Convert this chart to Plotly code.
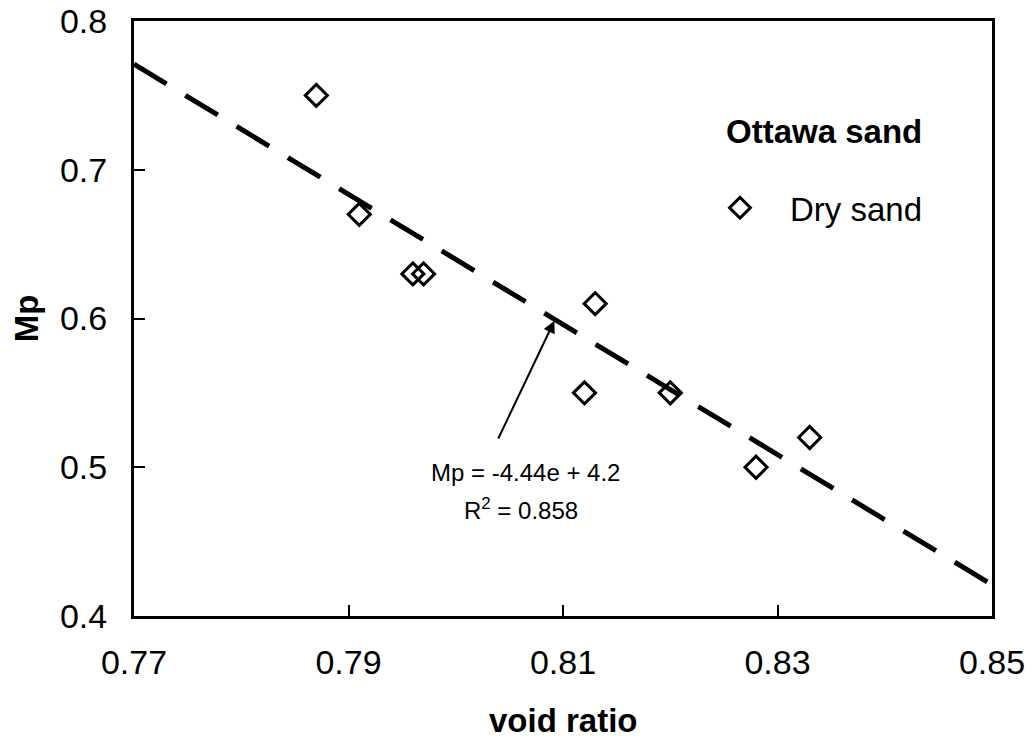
import plotly.graph_objects as go

# Data
void_ratio = [0.787, 0.791, 0.796, 0.797, 0.813, 0.812, 0.820, 0.828, 0.833]
mp_values = [0.75, 0.67, 0.63, 0.63, 0.61, 0.55, 0.55, 0.50, 0.52]

trend_e = [0.77, 0.85]
trend_mp = [0.771, 0.421]

x_ticks = [0.77, 0.79, 0.81, 0.83, 0.85]
x_ticktext = ["0.77", "0.79", "0.81", "0.83", "0.85"]
y_ticks = [0.4, 0.5, 0.6, 0.7, 0.8]
y_ticktext = ["0.4", "0.5", "0.6", "0.7", "0.8"]

FONT = "Liberation Sans, Arial, Helvetica, sans-serif"

fig = go.Figure()

fig.add_trace(go.Scatter(
    x=trend_e, y=trend_mp, mode="lines",
    line=dict(color="black", width=5, dash="38px,22px"),
    showlegend=False, hoverinfo="skip",
))

fig.add_trace(go.Scatter(
    x=void_ratio, y=mp_values, mode="markers", name="Dry sand",
    marker=dict(symbol="diamond-open", size=17, color="black",
                line=dict(color="black", width=3)),
    showlegend=True,
))

axis_common = dict(
    showline=True, linecolor="black", linewidth=3, mirror=True,
    ticks="inside", ticklen=11, tickwidth=2, tickcolor="black",
    showgrid=False, zeroline=False, automargin=False,
    tickfont=dict(family=FONT, size=34, color="black"),
)

fig.update_layout(
    width=1031, height=740,
    margin=dict(l=134, r=39, t=21, b=124, autoexpand=False),
    paper_bgcolor="white", plot_bgcolor="white",
    font=dict(family=FONT, color="black"),
    xaxis=dict(range=[0.77, 0.85], tickvals=x_ticks, ticktext=x_ticktext,
               ticklabelstandoff=14, **axis_common),
    yaxis=dict(range=[0.4, 0.8], tickvals=y_ticks, ticktext=y_ticktext,
               ticklabelstandoff=17, **axis_common),
    legend=dict(x=0.648, y=0.686, xanchor="left", yanchor="middle",
                font=dict(family=FONT, size=33, color="black"),
                bgcolor="rgba(0,0,0,0)", itemwidth=90),
    showlegend=True,
)

annotations = [
    # axis titles
    dict(text="<b>void ratio</b>", xref="paper", yref="paper",
         x=0.5, y=-0.175, xanchor="center", yanchor="middle",
         showarrow=False, font=dict(family=FONT, size=33, color="black")),
    dict(text="<b>Mp</b>", xref="paper", yref="paper",
         x=-0.125, y=0.5, xanchor="center", yanchor="middle", textangle=-90,
         showarrow=False, font=dict(family=FONT, size=33, color="black")),
    # legend heading
    dict(text="<b>Ottawa sand</b>", xref="paper", yref="paper",
         x=0.688, y=0.815, xanchor="left", yanchor="middle",
         showarrow=False, font=dict(family=FONT, size=33, color="black")),
    # regression text
    dict(text="Mp = -4.44e + 4.2", xref="x", yref="y",
         x=0.8065, y=0.4968, xanchor="center", yanchor="middle",
         showarrow=False, font=dict(family=FONT, size=24, color="black")),
    dict(text="R<sup>2</sup> = 0.858", xref="x", yref="y",
         x=0.8061, y=0.4720, xanchor="center", yanchor="middle",
         showarrow=False, font=dict(family=FONT, size=24, color="black")),
    # arrow
    dict(text="", xref="x", yref="y", x=0.8092, y=0.5985,
         axref="x", ayref="y", ax=0.8039, ay=0.5183,
         showarrow=True, arrowhead=2, arrowsize=1.2, arrowwidth=2,
         arrowcolor="black"),
]
fig.update_layout(annotations=annotations)

fig.write_html("out.html")
